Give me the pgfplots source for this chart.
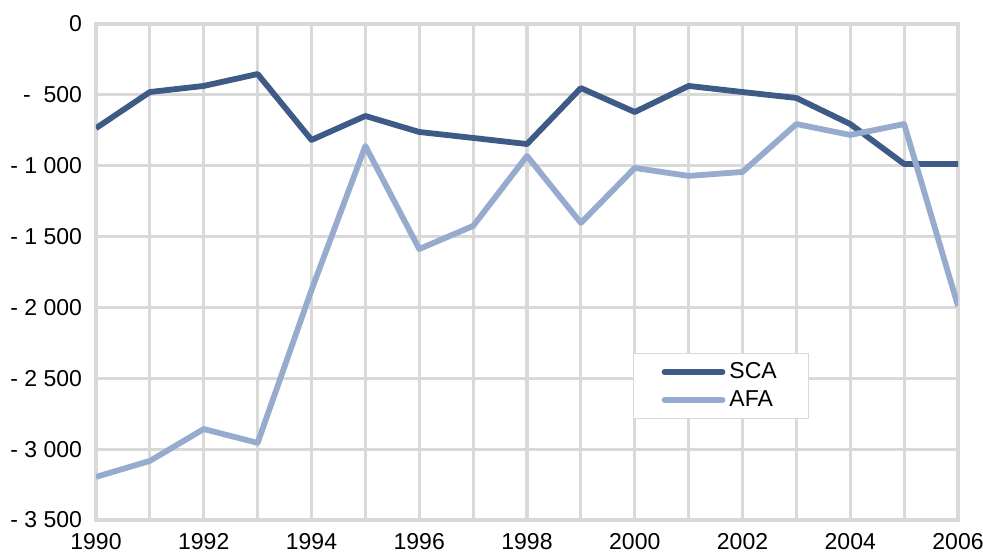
\documentclass[border=0pt]{standalone}
\usepackage{fontspec}
\setmainfont{Liberation Sans}
\usepackage{pgfplots}
\pgfplotsset{compat=1.18}

\definecolor{gridgray}{HTML}{D9D9D9}
\definecolor{scablue}{HTML}{3E5A86}
\definecolor{afablue}{HTML}{97ABCE}

\begin{document}
\begin{tikzpicture}
\begin{axis}[
  scale only axis, width=431pt, height=248pt,
  xmin=1990, xmax=2006, ymin=-3500, ymax=0,
  xtick={1990,1992,...,2006},
  xticklabels={1990,1992,1994,1996,1998,2000,2002,2004,2006},
  minor xtick={1991,1993,...,2005},
  ytick={-3500,-3000,...,0},
  yticklabels={- 3 500,- 3 000,- 2 500,- 2 000,- 1 500,- 1 000,-\ \ 500,0},
  /pgf/number format/assume math mode=true,
  xmajorgrids, xminorgrids, ymajorgrids,
  grid style={gridgray, line width=1.6pt},
  minor grid style={gridgray, line width=1.6pt},
  axis line style={gridgray, line width=1.6pt},
  major tick length=0pt, minor tick length=0pt,
  tick label style={font=\fontsize{11.5}{13}\selectfont, text=black},
  yticklabel style={xshift=-3.5pt},
  xticklabel style={yshift=-3pt},
  legend style={at={(0.623,0.337)}, anchor=north west,
    draw=gridgray, line width=0.6pt, font=\fontsize{11.5}{13}\selectfont,
    inner xsep=14pt, inner ysep=2.5pt, row sep=0.5pt},
  legend cell align=left,
  legend image code/.code={\draw[#1, line cap=round] (0pt,0pt) -- (29pt,0pt);},
]
\addplot[scablue, line width=2.9pt, line join=round] coordinates {
  (1990,-735) (1991,-480) (1992,-437) (1993,-353) (1994,-818) (1995,-649)
  (1996,-762) (1997,-804) (1998,-847) (1999,-452) (2000,-621) (2001,-437)
  (2002,-480) (2003,-522) (2004,-706) (2005,-988) (2006,-988) };
\addplot[afablue, line width=2.9pt, line join=round] coordinates {
  (1990,-3196) (1991,-3083) (1992,-2858) (1993,-2956) (1994,-1877) (1995,-861)
  (1996,-1588) (1997,-1425) (1998,-931) (1999,-1404) (2000,-1016) (2001,-1072)
  (2002,-1044) (2003,-706) (2004,-783) (2005,-706) (2006,-1990) };
\legend{SCA, AFA}
\end{axis}
\pgfresetboundingbox
\path ([xshift=-48pt,yshift=-18pt]current axis.south west) rectangle ([xshift=12.5pt,yshift=12pt]current axis.north east);
\end{tikzpicture}
\end{document}
